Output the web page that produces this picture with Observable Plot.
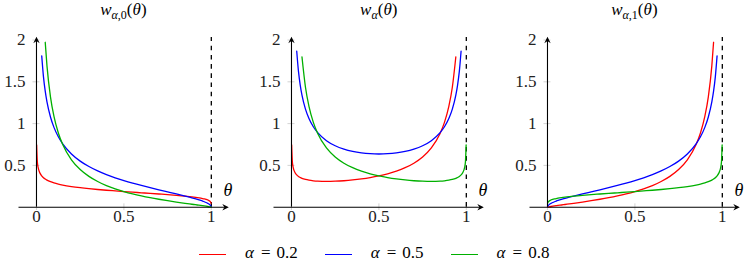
<!DOCTYPE html>
<html>
<head>
<meta charset="utf-8">
<script src="https://cdn.jsdelivr.net/npm/d3@7"></script>
<script src="https://cdn.jsdelivr.net/npm/@observablehq/plot@0.6"></script>
<style>
  html, body { margin: 0; padding: 0; background: #fff; }
  #root { position: relative; width: 747px; height: 264px; overflow: hidden;
          font-family: "Liberation Serif", serif; color: #000; }
  .panel { position: absolute; top: 0; }
  .title { position: absolute; top: 0; font-size: 17px; line-height: 20px; white-space: nowrap;
           transform: translateX(-50%); }
  .title i { font-style: italic; }
  .title .sub { font-size: 12px; position: relative; top: 3.5px; }
  .legline { position: absolute; height: 0; width: 27px; border-top: 1.3px solid; }
  .legtext { position: absolute; font-size: 17px; line-height: 20px; white-space: nowrap; }
  .legtext .eq { margin: 0 6px 0 7px; }
</style>
</head>
<body>
<div id="root"></div>
<script>
// ---- data ----
const theta = [0.001,0.005,0.01,0.02,0.03,0.04,0.05,0.06,0.08,0.1,0.125,0.15,0.2,0.25,0.3,0.35,0.4,0.45,0.5,
               0.55,0.6,0.65,0.7,0.75,0.8,0.85,0.875,0.9,0.92,0.94,0.95,0.96,0.97,0.98,0.99,0.995,0.999];

const alphas = [0.2, 0.5, 0.8];
const colors = ["#ff0000", "#0000ff", "#00b000"];
const legendLabels = ["0.2", "0.5", "0.8"];

// panel 1 : w_{alpha,0}(theta)
const red0 = [0.7447,0.5393,0.4690,0.4075,0.3750,0.3533,0.3371,0.3244,0.3049,0.2903,0.2761,0.2647,0.2469,0.2331,0.2216,0.2118,0.2029,0.1948,0.1871,
              0.1797,0.1725,0.1653,0.1579,0.1502,0.1418,0.1323,0.1268,0.1206,0.1148,0.1079,0.1038,0.0991,0.0934,0.0859,0.0746,0.0649,0.0470];
const blue0 = [null,null,null,null,1.8100,1.5594,1.3875,1.2599,1.0794,0.9549,0.8422,0.7577,0.6366,0.5513,0.4862,0.4338,0.3899,0.3519,0.3183,
               0.2879,0.2599,0.2336,0.2084,0.1838,0.1592,0.1337,0.1203,0.1061,0.0939,0.0804,0.0730,0.0650,0.0560,0.0455,0.0320,0.0226,0.0101];
const green0 = [null,null,null,null,null,null,1.9728,1.6906,1.3202,1.0851,0.8875,0.7494,0.5672,0.4506,0.3685,0.3070,0.2588,0.2197,0.1871,
                0.1593,0.1353,0.1140,0.0950,0.0777,0.0617,0.0467,0.0394,0.0323,0.0265,0.0207,0.0177,0.0147,0.0116,0.0083,0.0047,0.0027,0.0007];

// panel 2 : w_alpha(theta)
const redW = [0.7454,0.5420,0.4738,0.4158,0.3866,0.3680,0.3549,0.3451,0.3315,0.3226,0.3156,0.3114,0.3086,0.3108,0.3166,0.3258,0.3382,0.3541,0.3742,
              0.3994,0.4313,0.4723,0.5264,0.6008,0.7090,0.8817,1.0142,1.2057,1.4350,1.7986,null,null,null,null,null,null,null];
const blueW = [null,null,null,null,1.8660,1.6244,1.4605,1.3403,1.1733,1.0610,0.9625,0.8915,0.7958,0.7351,0.6946,0.6674,0.6498,0.6398,0.6366,
               0.6398,0.6498,0.6674,0.6946,0.7351,0.7958,0.8915,0.9625,1.0610,1.1733,1.3403,1.4605,1.6244,1.8660,null,null,null,null];
const greenW = [null,null,null,null,null,null,null,1.7986,1.4350,1.2057,1.0142,0.8817,0.7090,0.6008,0.5264,0.4723,0.4313,0.3994,0.3742,
                0.3541,0.3382,0.3258,0.3166,0.3108,0.3086,0.3114,0.3156,0.3226,0.3315,0.3451,0.3549,0.3680,0.3866,0.4158,0.4738,0.5420,0.7454];

// panel 3 : w_{alpha,1}(theta)
const red1 = [0.0007,0.0027,0.0047,0.0083,0.0116,0.0147,0.0177,0.0207,0.0265,0.0323,0.0394,0.0467,0.0617,0.0777,0.0950,0.1140,0.1353,0.1593,0.1871,
              0.2197,0.2588,0.3070,0.3685,0.4506,0.5672,0.7494,0.8875,1.0851,1.3202,1.6906,1.9728,null,null,null,null,null,null];
const blue1 = [0.0101,0.0226,0.0320,0.0455,0.0560,0.0650,0.0730,0.0804,0.0939,0.1061,0.1203,0.1337,0.1592,0.1838,0.2084,0.2336,0.2599,0.2879,0.3183,
               0.3519,0.3899,0.4338,0.4862,0.5513,0.6366,0.7577,0.8422,0.9549,1.0794,1.2599,1.3875,1.5594,1.8100,null,null,null,null];
const green1 = [0.0470,0.0649,0.0746,0.0859,0.0934,0.0991,0.1038,0.1079,0.1148,0.1206,0.1268,0.1323,0.1418,0.1502,0.1579,0.1653,0.1725,0.1797,0.1871,
                0.1948,0.2029,0.2118,0.2216,0.2331,0.2469,0.2647,0.2761,0.2903,0.3049,0.3244,0.3371,0.3533,0.3750,0.4075,0.4690,0.5393,0.7447];

const titleSubs = ["α,0", "α", "α,1"];
const xTicks = [0, 0.5, 1];
const xTickLabels = ["0", "0.5", "1"];
const yTicks = [0.5, 1, 1.5, 2];
const yTickLabels = ["0.5", "1", "1.5", "2"];
const xDomain = [-0.1, 1.1];
const yDomain = [0, 2];
const yAxisTop = 2.04;
const boundaryX = 1;
const boundaryTop = 2.03;

// ---- drawing ----
const panels = [[red0, blue0, green0], [redW, blueW, greenW], [red1, blue1, green1]];
const panelLefts = [0, 255.4, 511];
const W = 236, H = 230, ML = 18.5, MR = 7.7, MT = 39.5, MB = 23.3;
const FONT = "'Liberation Serif', serif";

const arrowRight = { draw(ctx) { ctx.moveTo(0, 0); ctx.lineTo(-6.5, -3.2); ctx.lineTo(-4.4, 0); ctx.lineTo(-6.5, 3.2); ctx.closePath(); } };
const arrowUp = { draw(ctx) { ctx.moveTo(0, 0); ctx.lineTo(-3.2, 6.5); ctx.lineTo(0, 4.4); ctx.lineTo(3.2, 6.5); ctx.closePath(); } };

const root = document.getElementById("root");

panels.forEach((series, p) => {
  const data = [];
  series.forEach((vals, s) => {
    vals.forEach((v, i) => { if (v != null) data.push({theta: theta[i], w: v, alpha: alphas[s]}); });
  });
  const chart = Plot.plot({
    width: W, height: H,
    marginLeft: ML, marginRight: MR, marginTop: MT, marginBottom: MB,
    style: {fontFamily: FONT, fontSize: "17px", background: "transparent", overflow: "visible"},
    x: {domain: xDomain, axis: null},
    y: {domain: yDomain, axis: null},
    color: {type: "ordinal", domain: alphas, range: colors},
    marks: [
      Plot.ruleY(yTicks, {y: d => d, x1: -0.02, x2: 0.02, stroke: "#c8c8c8", strokeWidth: 0.8}),
      Plot.ruleX(xTicks, {x: d => d, y1: -0.04, y2: 0.04, stroke: "#c8c8c8", strokeWidth: 0.8}),
      Plot.ruleX([boundaryX], {x: d => d, y1: 0, y2: boundaryTop, stroke: "#000", strokeWidth: 1.3, strokeDasharray: "4.6,4.6"}),
      Plot.line(data, {x: "theta", y: "w", z: "alpha", stroke: "alpha", strokeWidth: 1.3, curve: "monotone-x"}),
      Plot.ruleY([0], {y: d => d, x1: xDomain[0], x2: xDomain[1] - 0.02, stroke: "#000", strokeWidth: 1.1}),
      Plot.ruleX([0], {x: d => d, y1: 0, y2: yAxisTop - 0.04, stroke: "#000", strokeWidth: 1.1}),
      Plot.dot([[xDomain[1], 0]], {x: d => d[0], y: d => d[1], symbol: arrowRight, fill: "#000", stroke: null}),
      Plot.dot([[0, yAxisTop]], {x: d => d[0], y: d => d[1], symbol: arrowUp, fill: "#000", stroke: null}),
      Plot.text(xTicks, {x: d => d, y: yDomain[0], text: (d, i) => xTickLabels[i], dy: 9.5, lineAnchor: "middle", textAnchor: "middle", fill: "#222"}),
      Plot.text(yTicks, {x: 0, y: d => d, text: (d, i) => yTickLabels[i], dx: -11, lineAnchor: "middle", textAnchor: "end", fill: "#222"}),
      Plot.text(["θ"], {x: xDomain[1], y: yDomain[0], text: d => d, dx: -1, dy: -17, fontSize: 18, fontStyle: "italic", textAnchor: "middle", lineAnchor: "middle"})
    ]
  });
  const div = document.createElement("div");
  div.className = "panel";
  div.style.left = panelLefts[p] + "px";
  div.appendChild(chart);
  root.appendChild(div);

  const t = document.createElement("div");
  t.className = "title";
  t.style.left = (panelLefts[p] + ML + (0.5 - xDomain[0]) / (xDomain[1] - xDomain[0]) * (W - ML - MR)) + "px";
  const parts = titleSubs[p].split(",");
  t.innerHTML = `<i>w</i><span class="sub"><i>${parts[0]}</i>${parts.length > 1 ? "," + parts[1] : ""}</span>(<i>θ</i>)`;
  root.appendChild(t);
});

alphas.forEach((a, i) => {
  const x0 = 199 + i * 125.8;
  const l = document.createElement("div");
  l.className = "legline";
  l.style.left = x0 + "px";
  l.style.top = "253.5px";
  l.style.borderTopColor = colors[i];
  root.appendChild(l);
  const t = document.createElement("div");
  t.className = "legtext";
  t.style.left = (x0 + 46) + "px";
  t.style.top = "243px";
  t.innerHTML = `<i>α</i><span class="eq">=</span>${legendLabels[i]}`;
  root.appendChild(t);
});
</script>
</body>
</html>
